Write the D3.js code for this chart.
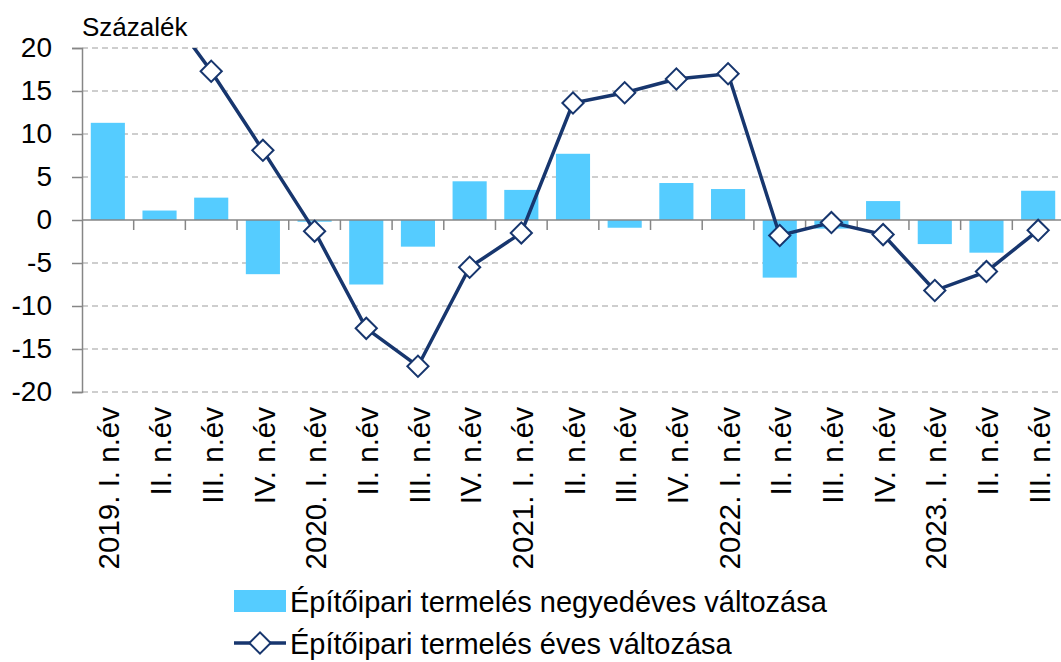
<!DOCTYPE html>
<html>
<head>
<meta charset="utf-8">
<script src="https://cdn.jsdelivr.net/npm/d3@7"></script>
<style>
  body { margin: 0; background: #fff; }
  text { font-family: "Liberation Sans", Arial, sans-serif; fill: #000; }
</style>
</head>
<body>
<div id="chart-area"></div>
<script>
// data
var categories = ["2019. I. n.év", "II. n.év", "III. n.év", "IV. n.év",
    "2020. I. n.év", "II. n.év ", "III. n.év ", "IV. n.év ",
    "2021. I. n.év", "II. n.év  ", "III. n.év  ", "IV. n.év  ",
    "2022. I. n.év", "II. n.év   ", "III. n.év   ", "IV. n.év   ",
    "2023. I. n.év", "II. n.év    ", "III. n.év    "];
var quarterly = [11.3, 1.1, 2.6, -6.3, -0.2, -7.5, -3.1, 4.5, 3.5, 7.7, -0.9, 4.3,
    3.6, -6.7, -1.0, 2.2, -2.8, -3.8, 3.4];
var annual = [38.0, 25.5, 17.3, 8.1, -1.3, -12.6, -17.0, -5.5, -1.5, 13.6, 14.8, 16.4,
    17.0, -1.8, -0.3, -1.7, -8.2, -6.0, -1.2];
var yTicks = [-20, -15, -10, -5, 0, 5, 10, 15, 20];
var barLabel = "Építőipari termelés negyedéves változása";
var lineLabel = "Építőipari termelés éves változása";

var W = 1061, H = 662;
var margin = { left: 82, top: 48, right: -3, bottom: 270 };
var width = W - margin.left - margin.right,
    height = H - margin.top - margin.bottom;

var barColor = "#55CCFF", lineColor = "#17366E", gridColor = "#BFBFBF", axisColor = "#868686";

var svg = d3.select("#chart-area")
    .append("svg")
    .attr("width", W)
    .attr("height", H);

svg.append("defs").append("clipPath")
    .attr("id", "plot-clip")
  .append("rect")
    .attr("x", -5).attr("y", 0)
    .attr("width", width + 10).attr("height", height);

var g = svg.append("g")
    .attr("transform", "translate(" + margin.left + "," + margin.top + ")");

var x = d3.scaleBand()
    .domain(categories)
    .range([0, width])
    .paddingInner(0.34)
    .paddingOuter(0.17);

var y = d3.scaleLinear()
    .domain([-20, 20])
    .range([height, 0]);

// grid
g.selectAll(".grid")
    .data(yTicks.filter(function(d){ return d !== 0; }))
    .enter().append("line")
    .attr("class", "grid")
    .attr("x1", 0).attr("x2", width)
    .attr("y1", function(d){ return y(d); })
    .attr("y2", function(d){ return y(d); })
    .attr("stroke", gridColor)
    .attr("stroke-width", 1.5)
    .attr("stroke-dasharray", "6,4");

// bars
g.selectAll(".bar")
    .data(quarterly)
    .enter().append("rect")
    .attr("class", "bar")
    .attr("x", function(d, i){ return x(categories[i]); })
    .attr("width", x.bandwidth())
    .attr("y", function(d){ return y(Math.max(0, d)); })
    .attr("height", function(d){ return Math.abs(y(d) - y(0)); })
    .attr("fill", barColor);

// zero axis with category boundary ticks
g.append("line")
    .attr("x1", 0).attr("x2", width)
    .attr("y1", y(0)).attr("y2", y(0))
    .attr("stroke", axisColor).attr("stroke-width", 1.5);

g.selectAll(".xtick")
    .data(categories.slice(1))
    .enter().append("line")
    .attr("class", "xtick")
    .attr("x1", function(d){ return x(d) - x.step() * 0.17; })
    .attr("x2", function(d){ return x(d) - x.step() * 0.17; })
    .attr("y1", y(0)).attr("y2", y(0) + 10)
    .attr("stroke", axisColor).attr("stroke-width", 1.5);

// y axis
var yAxisCall = d3.axisLeft(y)
    .tickValues(yTicks)
    .tickSize(10)
    .tickPadding(20)
    .tickFormat(function(d){ return String(d); });
var yAxis = g.append("g")
    .attr("class", "y-axis")
    .call(yAxisCall);
yAxis.select(".domain").attr("stroke", axisColor).attr("stroke-width", 1.5);
yAxis.selectAll(".tick line").attr("stroke", axisColor).attr("stroke-width", 1.5);
yAxis.selectAll(".tick text")
    .attr("font-size", "28px")
    .attr("font-family", "Liberation Sans, Arial, sans-serif")
    .attr("fill", "#000");

// category labels
g.selectAll(".xlabel")
    .data(categories)
    .enter().append("text")
    .attr("class", "xlabel")
    .attr("transform", function(d){
        return "translate(" + (x(d) + x.bandwidth() / 2 + 1) + "," + (height + 15) + ") rotate(-90)";
    })
    .attr("text-anchor", "end")
    .attr("dy", "0.36em")
    .attr("font-size", "29.5px")
    .text(function(d){ return d.trim(); });

// line
var line = d3.line()
    .x(function(d, i){ return x(categories[i]) + x.bandwidth() / 2; })
    .y(function(d){ return y(d); });

var lineG = g.append("g").attr("clip-path", "url(#plot-clip)");
lineG.append("path")
    .datum(annual)
    .attr("d", line)
    .attr("fill", "none")
    .attr("stroke", lineColor)
    .attr("stroke-width", 3.5);

var diamond = d3.symbol().type(d3.symbolSquare).size(225);
lineG.selectAll(".pt")
    .data(annual)
    .enter().append("path")
    .attr("class", "pt")
    .attr("d", diamond)
    .attr("transform", function(d, i){
        return "translate(" + (x(categories[i]) + x.bandwidth() / 2) + "," + y(d) + ") rotate(45)";
    })
    .attr("fill", "#fff")
    .attr("stroke", lineColor)
    .attr("stroke-width", 2);

// unit label
svg.append("text")
    .attr("x", 82)
    .attr("y", 36)
    .attr("font-size", "26px")
    .text("Százalék");

// legend
var legend = svg.append("g").attr("transform", "translate(234,0)");
legend.append("rect")
    .attr("x", 0).attr("y", 590)
    .attr("width", 52).attr("height", 22)
    .attr("fill", barColor);
legend.append("text")
    .attr("x", 56).attr("y", 612)
    .attr("font-size", "29px")
    .text(barLabel);

legend.append("line")
    .attr("x1", 0).attr("x2", 52)
    .attr("y1", 643).attr("y2", 643)
    .attr("stroke", lineColor).attr("stroke-width", 3.5);
legend.append("path")
    .attr("d", diamond)
    .attr("transform", "translate(26,643) rotate(45)")
    .attr("fill", "#fff")
    .attr("stroke", lineColor)
    .attr("stroke-width", 2);
legend.append("text")
    .attr("x", 56).attr("y", 654)
    .attr("font-size", "29px")
    .text(lineLabel);
</script>
</body>
</html>
